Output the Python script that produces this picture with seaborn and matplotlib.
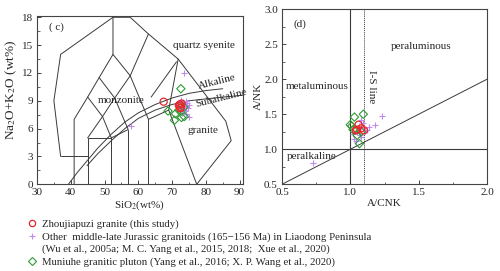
import numpy as np
import pandas as pd
import matplotlib
matplotlib.use("Agg")
import matplotlib.pyplot as plt
from matplotlib.lines import Line2D
from matplotlib.ticker import MultipleLocator
import seaborn as sns

# ── Data ─────────────────────────────────────────────────────────────────────
# TAS panel (c): SiO2 vs Na2O+K2O
zjpz_sio2 = [67.5, 72.3, 72.6, 72.0, 72.8, 72.4]
zjpz_alk  = [8.9, 8.6, 8.3, 8.5, 8.7, 8.2]
other_sio2 = [57.8, 73.6, 75.1, 73.5, 74.0, 73.2, 74.5, 73.8, 72.9, 74.2,
              73.0, 74.8, 73.6, 72.5, 74.0, 75.0, 73.3, 72.2]
other_alk  = [6.3, 12.0, 7.2, 8.0, 8.3, 8.6, 8.8, 7.9, 8.1, 9.0,
              7.7, 8.2, 8.4, 9.1, 7.6, 8.5, 8.9, 7.9]
mnh_sio2 = [72.6, 68.8, 71.0, 70.7, 72.8, 73.6, 73.5, 72.0]
mnh_alk  = [10.3, 7.9, 7.6, 6.9, 7.2, 7.3, 8.3, 8.0]

# A/CNK-A/NK panel (d)
zjpz_acnk = [1.06, 1.05, 1.08, 1.10, 1.04]
zjpz_ank  = [1.35, 1.28, 1.30, 1.27, 1.27]
other_acnk = [0.73, 1.23, 1.18, 1.08, 1.10, 1.05, 1.12, 1.03, 1.07, 1.14,
              1.02, 1.09, 1.06, 1.11, 1.04, 1.08]
other_ank  = [0.80, 1.48, 1.35, 1.42, 1.30, 1.25, 1.28, 1.15, 1.20, 1.32,
              1.22, 1.38, 1.33, 1.26, 1.12, 1.18]
mnh_acnk = [1.095, 1.03, 1.01, 1.066, 1.05, 1.08, 1.02, 1.00]
mnh_ank  = [1.50, 1.46, 1.33, 1.08, 1.20, 1.25, 1.28, 1.35]

# Middlemost (1994) plutonic TAS field boundaries
tas_lines = [
    [(37, 3), (35, 9), (37, 14), (52.5, 18), (57.6, 18), (63, 16.2), (71.8, 13.5),
     (85.9, 6.8), (87.5, 4.7), (77.3, 0)],
    [(37, 3), (45, 3)],
    [(41, 0), (41, 7), (45, 9.4), (48.4, 11.5), (52.5, 14), (52.5, 18)],
    [(45, 0), (45, 5), (52, 5), (52, 0)],
    [(57, 0), (57, 5.9)],
    [(63, 0), (63, 7)],
    [(45, 9.4), (49.4, 7.3), (52, 5)],
    [(45, 5), (49.4, 7.3), (53, 9.3), (57, 5.9), (52, 5)],
    [(48.4, 11.5), (53, 9.3), (57.6, 11.7), (52.5, 14)],
    [(63, 16.2), (57.6, 11.7), (63, 7), (69, 8), (71.8, 13.5)],
    [(69, 8), (77.3, 0)],
    [(71.3, 13.2), (63.8, 9.4)],
]
alk_upper = [(39.3, 0), (42, 1.3), (45, 2.6), (48, 3.9), (52, 5.4), (56, 6.7), (60, 7.7),
             (65, 8.6), (70, 9.3), (75, 9.8), (80, 10.1), (85, 10.3)]
alk_lower = [(44.8, 2.0), (48, 3.3), (52, 4.7), (56, 6.0), (60, 7.1), (65, 8.0),
             (70, 8.6), (75, 9.0), (80, 9.2), (85, 9.4), (91, 9.6)]

RED, PURPLE, GREEN, LINE = "#e8262b", "#c08af0", "#2f9a35", "#3a3a3a"

sns.set_theme(style="ticks")
plt.rcParams["font.family"] = ["Liberation Serif", "DejaVu Serif"]
plt.rcParams["mathtext.fontset"] = "stix"
plt.rcParams["xtick.direction"] = "in"
plt.rcParams["ytick.direction"] = "in"
FS = 8

fig = plt.figure(figsize=(5, 2.71), dpi=100)
ax1 = fig.add_axes([0.074, 0.320, 0.412, 0.621])
ax2 = fig.add_axes([0.564, 0.320, 0.410, 0.646])


def scatter_groups(ax, groups):
    for (x, y, marker, color, size, lw) in groups:
        df = pd.DataFrame({"x": x, "y": y})
        kw = dict(facecolors="none", edgecolors=color) if marker != "+" else dict(color=color)
        sns.scatterplot(data=df, x="x", y="y", ax=ax, marker=marker, s=size,
                        linewidth=lw, zorder=3, legend=False, **kw)


# ── Panel (c) ────────────────────────────────────────────────────────────────
for seg in tas_lines + [alk_upper, alk_lower]:
    xs, ys = zip(*seg)
    ax1.plot(xs, ys, color=LINE, lw=0.7, zorder=1)

scatter_groups(ax1, [
    (other_sio2, other_alk, "+", PURPLE, 24, 0.8),
    (mnh_sio2, mnh_alk, "D", GREEN, 18, 0.8),
    (zjpz_sio2, zjpz_alk, "o", RED, 26, 0.9),
])

ax1.set_xlim(30, 91)
ax1.set_ylim(0, 18.14)
ax1.xaxis.set_major_locator(MultipleLocator(10))
ax1.xaxis.set_minor_locator(MultipleLocator(5))
ax1.yaxis.set_major_locator(MultipleLocator(3))
ax1.yaxis.set_minor_locator(MultipleLocator(1.5))
ax1.set_xlabel("SiO$_2$(wt%)", fontsize=FS, labelpad=1)
ax1.set_ylabel("Na$_2$O+K$_2$O (wt%)", fontsize=9.5)
ax1.yaxis.set_label_coords(-0.088, 0.56)

ax1.text(35.8, 16.9, "( c)", fontsize=FS, ha="center", va="center")
ax1.text(79.3, 15.0, "quartz syenite", fontsize=FS, ha="center", va="center")
ax1.text(55.0, 9.0, "monzonite", fontsize=FS, ha="center", va="center")
ax1.text(79.0, 5.8, "granite", fontsize=FS, ha="center", va="center")
ax1.text(83.2, 11.0, "Alkaline", fontsize=FS, ha="center", va="center", rotation=14)
ax1.text(84.5, 9.3, "Subalkaline", fontsize=FS, ha="center", va="center", rotation=14)

# ── Panel (d) ────────────────────────────────────────────────────────────────
ax2.axvline(1.0, color=LINE, lw=0.8, zorder=1)
ax2.axhline(1.0, color=LINE, lw=0.8, zorder=1)
ax2.axvline(1.1, color=LINE, lw=0.7, ls=(0, (1, 1)), zorder=1)
ax2.plot([0.5, 2.0], [0.5, 2.0], color=LINE, lw=0.7, zorder=1)

scatter_groups(ax2, [
    (other_acnk, other_ank, "+", PURPLE, 24, 0.8),
    (mnh_acnk, mnh_ank, "D", GREEN, 18, 0.8),
    (zjpz_acnk, zjpz_ank, "o", RED, 26, 0.9),
])

ax2.set_xlim(0.5, 2.0)
ax2.set_ylim(0.5, 3.0)
ax2.xaxis.set_major_locator(MultipleLocator(0.5))
ax2.xaxis.set_minor_locator(MultipleLocator(0.25))
ax2.yaxis.set_major_locator(MultipleLocator(0.5))
ax2.yaxis.set_minor_locator(MultipleLocator(0.25))
ax2.xaxis.set_major_formatter(lambda v, p: f"{v:.1f}")
ax2.yaxis.set_major_formatter(lambda v, p: f"{v:.1f}")
ax2.set_xlabel("A/CNK", fontsize=FS, labelpad=1)
ax2.set_ylabel("A/NK", fontsize=FS, labelpad=1)

ax2.text(0.63, 2.78, "(d)", fontsize=FS, ha="center", va="center")
ax2.text(1.52, 2.47, "peraluminous", fontsize=FS, ha="center", va="center")
ax2.text(0.755, 1.90, "metaluminous", fontsize=FS, ha="center", va="center")
ax2.text(1.156, 1.89, "I-S line", fontsize=FS, ha="center", va="center", rotation=-90)
ax2.text(0.72, 0.90, "peralkaline", fontsize=FS, ha="center", va="center")

for ax in (ax1, ax2):
    ax.tick_params(labelsize=FS, length=3, width=0.6, pad=3)
    ax.tick_params(which="minor", length=1.8, width=0.5)
    for sp in ax.spines.values():
        sp.set_linewidth(0.8)
        sp.set_color("#444444")

# ── Legend ───────────────────────────────────────────────────────────────────
handles = [
    Line2D([], [], ls="", marker="o", mfc="none", mec=RED, ms=4.5, mew=0.9),
    Line2D([], [], ls="", marker="+", color=PURPLE, ms=5, mew=0.8),
    Line2D([], [], ls="", marker=""),
    Line2D([], [], ls="", marker="D", mfc="none", mec=GREEN, ms=3.8, mew=0.8),
]
labels = [
    "Zhoujiapuzi granite (this study)",
    "Other  middle-late Jurassic granitoids (165\u2212156 Ma) in Liaodong Peninsula",
    "(Wu et al., 2005a; M. C. Yang et al., 2015, 2018;  Xue et al., 2020)",
    "Muniuhe granitic pluton (Yang et al., 2016; X. P. Wang et al., 2020)",
]
fig.legend(handles, labels, loc="upper left", bbox_to_anchor=(0.053, 0.192),
           frameon=False, fontsize=7.75, handlelength=1.0, handletextpad=0.45,
           labelspacing=0.28, borderpad=0, borderaxespad=0)

fig.savefig("out.png", dpi=100)
